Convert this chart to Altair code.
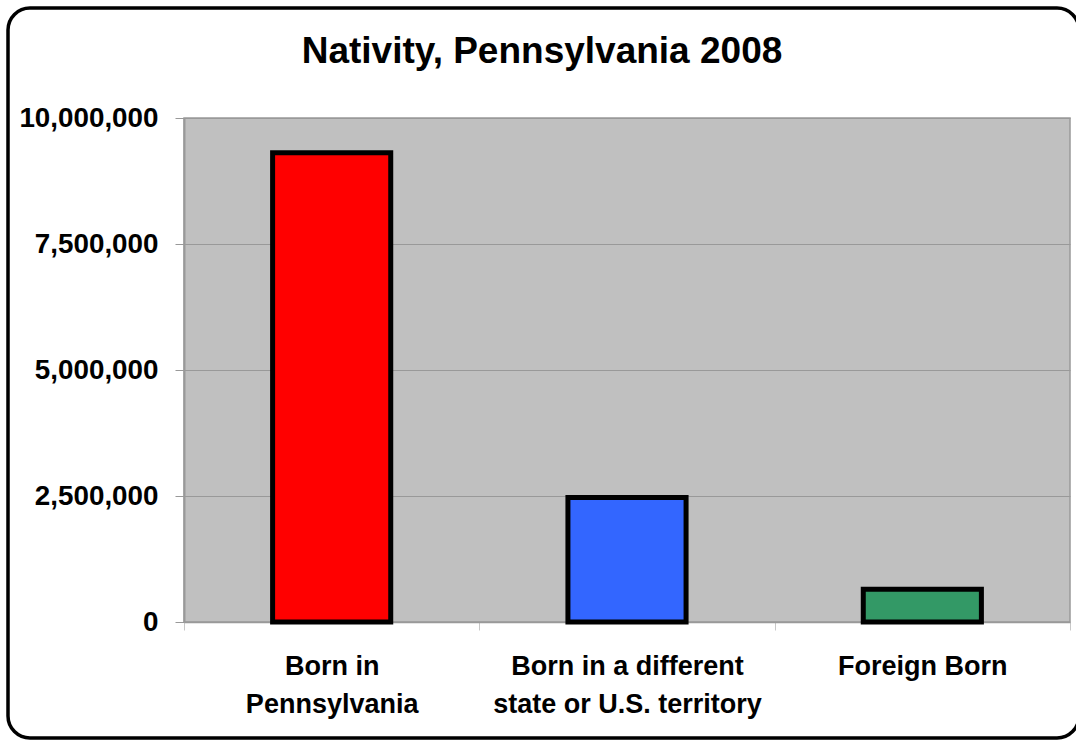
import altair as alt
import pandas as pd

# Nativity of Pennsylvania residents, 2008
categories = ["Born in\nPennsylvania", "Born in a different\nstate or U.S. territory", "Foreign Born"]
population = [9310000, 2470000, 650000]
bar_colors = ["#ff0000", "#3366ff", "#339966"]
y_ticks = [0, 2500000, 5000000, 7500000, 10000000]
chart_title = "Nativity, Pennsylvania 2008"

df = pd.DataFrame({"category": categories, "population": population, "color": bar_colors})

FONT = "Liberation Sans"

bars = alt.Chart(df).mark_bar(
    stroke="black", strokeWidth=5, width=alt.RelativeBandSize(0.4)
).encode(
    x=alt.X(
        "category:N",
        sort=categories,
        title=None,
        scale=alt.Scale(paddingInner=0, paddingOuter=0),
        axis=alt.Axis(
            labelExpr="split(datum.label, '\\n')",
            labelAngle=0,
            labelFont=FONT,
            labelFontSize=27,
            labelFontWeight="bold",
            labelColor="black",
            labelLineHeight=38,
            labelPadding=23,
            labelLimit=500,
            tickBand="extent",
            tickSize=8,
            tickColor="#c8c8c8",
            domainColor="#999999",
            domainWidth=1.5,
            grid=False,
        ),
    ),
    y=alt.Y(
        "population:Q",
        title=None,
        scale=alt.Scale(domain=[0, 10000000], nice=False),
        axis=alt.Axis(
            values=y_ticks,
            format=",.0f",
            labelFont=FONT,
            labelFontSize=27.8,
            labelFontWeight="bold",
            labelColor="black",
            labelPadding=17,
            tickSize=9,
            tickColor="#999999",
            domainColor="#999999",
            domainWidth=2,
            gridColor="#999999",
            gridWidth=1,
        ),
    ),
    color=alt.Color("color:N", scale=None, legend=None),
)

one_row = pd.DataFrame({"title": [chart_title]})

# rounded outer frame around the whole chart
frame = alt.Chart(one_row).mark_rect(
    fill=None, stroke="black", strokeWidth=3.5, cornerRadius=22, clip=False
).encode(
    x=alt.value(-176), x2=alt.value(895), y=alt.value(-110), y2=alt.value(620)
)

# chart heading, centred over the whole frame
heading = alt.Chart(one_row).mark_text(
    font=FONT, fontSize=37, fontWeight="bold", color="black",
    align="center", baseline="alphabetic", clip=False
).encode(
    text="title:N", x=alt.value(358), y=alt.value(-55)
)

chart = alt.layer(frame, bars, heading).properties(
    width=886,
    height=504,
    padding={"left": 184, "top": 118, "right": 6, "bottom": 121},
    autosize=alt.AutoSizeParams(type="none"),
).configure_view(
    fill="#c0c0c0", stroke="#999999", strokeWidth=1.5
)

chart.save("out.html", embed_options={"renderer": "svg", "actions": False})
